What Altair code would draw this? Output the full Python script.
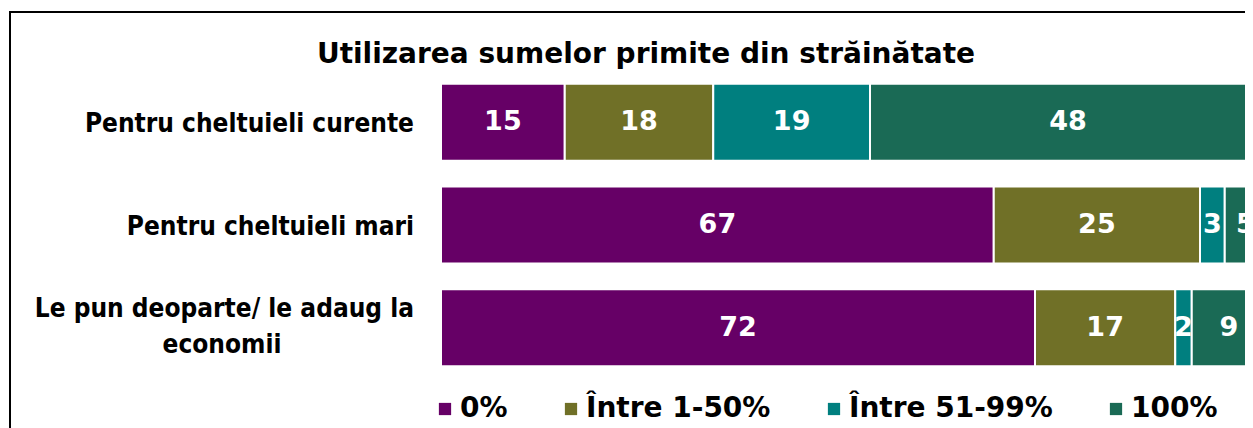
import altair as alt
import pandas as pd

# ---- data ----
categories = [
    "Pentru cheltuieli curente",
    "Pentru cheltuieli mari",
    "Le pun deoparte/ le adaug la economii",
]
label_line1 = ["Pentru cheltuieli curente", "Pentru cheltuieli mari", "Le pun deoparte/ le adaug la"]
label_line2 = ["", "", "economii"]
series = ["0%", "Între 1-50%", "Între 51-99%", "100%"]
v_0 = [15, 67, 72]
v_1_50 = [18, 25, 17]
v_51_99 = [19, 3, 2]
v_100 = [48, 5, 9]
colors = ["#660066", "#707027", "#007F7F", "#1A6A55"]
title_text = "Utilizarea sumelor primite din străinătate"

# ---- tables ----
rows = []
for s_i, (s, vals) in enumerate(zip(series, [v_0, v_1_50, v_51_99, v_100])):
    for c, v in zip(categories, vals):
        rows.append({"category": c, "series": s, "value": v, "order": s_i})
df = pd.DataFrame(rows)

lab = pd.DataFrame({"category": categories, "l1": label_line1, "l2": label_line2,
                    "n": [1 if l == "" else 2 for l in label_line2]})

yenc = alt.Y("category:N", sort=categories, axis=None,
             scale=alt.Scale(paddingInner=0.25, paddingOuter=0.125))
# the 100% end of the bars lies just past the right edge of the picture
xscale = alt.Scale(domain=[0, 100], range=[0, 825], nice=False)

border = alt.Chart(pd.DataFrame({"a": [0]})).mark_rect(
    fill="transparent", stroke="black", strokeWidth=2
).encode(x=alt.value(-431), x2=alt.value(900), y=alt.value(-59), y2=alt.value(420))

bars = alt.Chart(df).mark_bar(stroke="white", strokeWidth=2).encode(
    x=alt.X("value:Q", stack="zero", scale=xscale, axis=None),
    y=yenc,
    color=alt.Color(
        "series:N",
        sort=series,
        scale=alt.Scale(domain=series, range=colors),
        legend=alt.Legend(
            title=None, orient="none", legendX=-10, legendY=324, direction="horizontal",
            symbolType="square", symbolSize=150, symbolStrokeWidth=0,
            labelFont="DejaVu Sans", labelFontWeight="bold", labelFontSize=28,
            labelColor="black", labelOffset=1, columnPadding=49, padding=0,
            labelLimit=400,
        ),
    ),
    order=alt.Order("order:Q"),
)

vals_text = alt.Chart(df).transform_stack(
    stack="value", groupby=["category"], sort=[alt.SortField("order")], as_=["x0", "x1"]
).transform_calculate(mid="(datum.x0 + datum.x1) / 2").mark_text(
    color="white", font="DejaVu Sans", fontWeight="bold", fontSize=27, baseline="middle"
).encode(
    x=alt.X("mid:Q", scale=xscale, axis=None),
    y=yenc,
    text=alt.Text("value:Q"),
)

lab_font = dict(font="DejaVu Sans Condensed", fontWeight="bold", fontSize=26, color="black")

lab_single = alt.Chart(lab).transform_filter("datum.n == 1").mark_text(
    align="right", baseline="alphabetic", dy=10, **lab_font
).encode(x=alt.value(-27), y=yenc, text="l1:N")

lab_first = alt.Chart(lab).transform_filter("datum.n == 2").mark_text(
    align="right", baseline="alphabetic", dy=-11, **lab_font
).encode(x=alt.value(-27), y=yenc, text="l1:N")

lab_second = alt.Chart(lab).transform_filter("datum.n == 2").mark_text(
    align="center", baseline="alphabetic", dy=25, **lab_font
).encode(x=alt.value(-219), y=yenc, text="l2:N")

title = alt.Chart(pd.DataFrame({"t": [title_text]})).mark_text(
    font="DejaVu Sans", fontWeight="bold", fontSize=28, color="black",
    align="center", baseline="alphabetic"
).encode(x=alt.value(205), y=alt.value(-8), text="t:N")

chart = alt.layer(border, bars, vals_text, lab_single, lab_first, lab_second, title).properties(
    width=804, height=308,
    autosize=alt.AutoSizeParams(type="none"),
    padding={"left": 433, "top": 63, "right": 0, "bottom": 49},
).configure_view(strokeWidth=0)

chart.save("out.html", embed_options={"renderer": "svg", "actions": False})
